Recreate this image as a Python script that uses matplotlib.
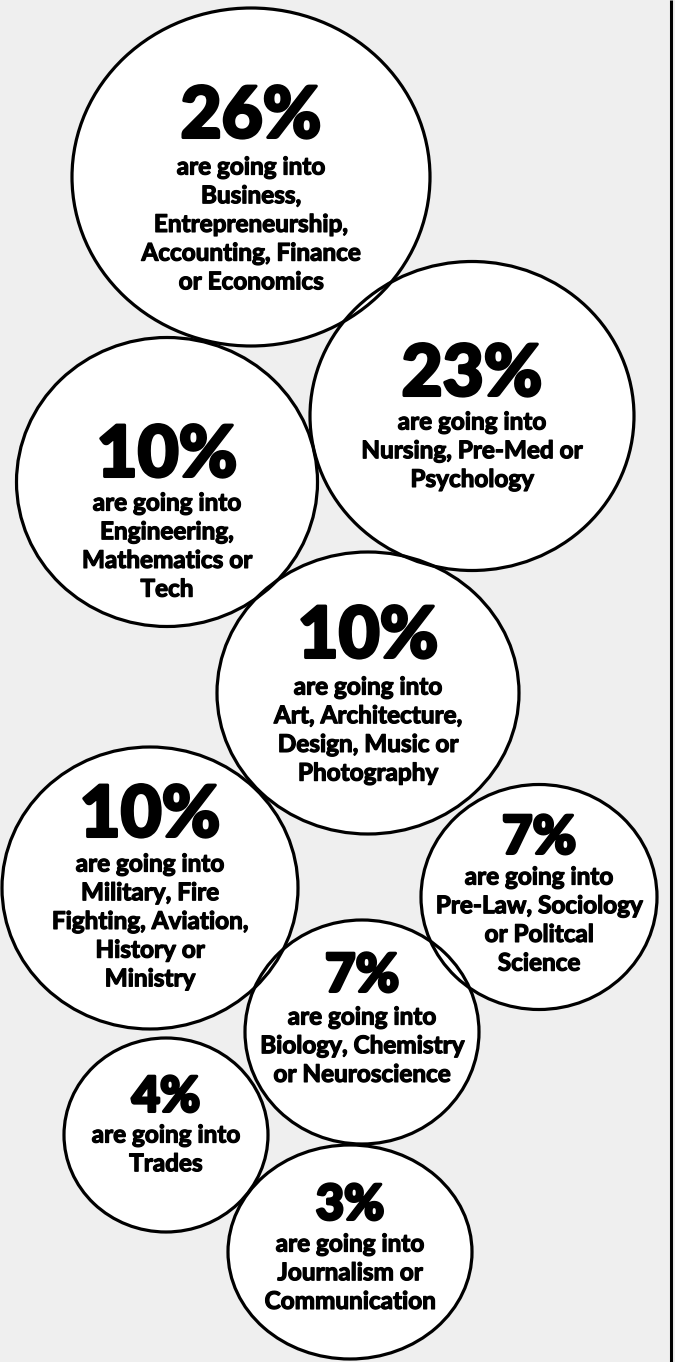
import matplotlib
matplotlib.use("Agg")
import matplotlib.pyplot as plt
from matplotlib.patches import Ellipse
import matplotlib.patheffects as pe

# ---- data ----
percents = [26, 23, 10, 10, 10, 7, 7, 4, 3]
fields = [
    ["Business,", "Entrepreneurship,", "Accounting, Finance", "or Economics"],
    ["Nursing, Pre-Med or", "Psychology"],
    ["Engineering,", "Mathematics or", "Tech"],
    ["Art, Architecture,", "Design, Music or", "Photography"],
    ["Military, Fire", "Fighting, Aviation,", "History or", "Ministry"],
    ["Pre-Law, Sociology", "or Politcal", "Science"],
    ["Biology, Chemistry", "or Neuroscience"],
    ["Trades"],
    ["Journalism or", "Communication"],
]
intro = "are going into"

# ---- layout (pixels): ellipse centre, width, height, pct-text y, first line y, pct size ----
layout = [
    (251, 177, 358, 338, 117, 167, 51),
    (472, 416, 324, 309, 375, 422, 51),
    (167, 482, 301, 289, 456, 503, 51),
    (368, 693, 302, 282, 637, 687, 51),
    (150, 888, 296, 282, 816, 864, 51),
    (539, 897, 236, 225, 838, 877, 38),
    (362, 1032, 234, 224, 976, 1017, 38),
    (166, 1135, 204, 194, 1097, 1135, 35),
    (350, 1252, 244, 214, 1205, 1244, 35),
]

W, H = 675, 1362
fig = plt.figure(figsize=(W / 100, H / 100), dpi=100)
fig.patch.set_facecolor("#efefef")
ax = fig.add_axes([0, 0, 1, 1])
ax.set_xlim(0, W)
ax.set_ylim(H, 0)
ax.axis("off")
ax.set_facecolor("#efefef")

FONT = ["Lato", "DejaVu Sans"]
line_h = 28.7
thick_big = [pe.withStroke(linewidth=2.2, foreground="black")]
thick_small = [pe.withStroke(linewidth=0.9, foreground="black")]

for p, lines, (cx, cy, w, h, py, ly, ps) in zip(percents, fields, layout):
    ax.add_patch(Ellipse((cx, cy), w, h, facecolor="white", edgecolor="none", zorder=1))
    ax.add_patch(Ellipse((cx, cy), w, h, facecolor="none", edgecolor="black",
                         linewidth=2.3, zorder=2))
    ax.text(cx, py, f"{p}%", ha="center", va="center", fontsize=ps,
            fontweight="black", family=FONT, color="black", zorder=3,
            path_effects=thick_big)
    for i, t in enumerate([intro] + lines):
        ax.text(cx, ly + i * line_h, t, ha="center", va="center", fontsize=17.5,
                fontweight="bold", family=FONT, color="black", zorder=3,
                path_effects=thick_small)

# right border line
ax.plot([670.8, 670.8], [0, H], color="black", linewidth=2.2, solid_capstyle="butt")

fig.savefig("out.png", dpi=100, facecolor=fig.get_facecolor())
